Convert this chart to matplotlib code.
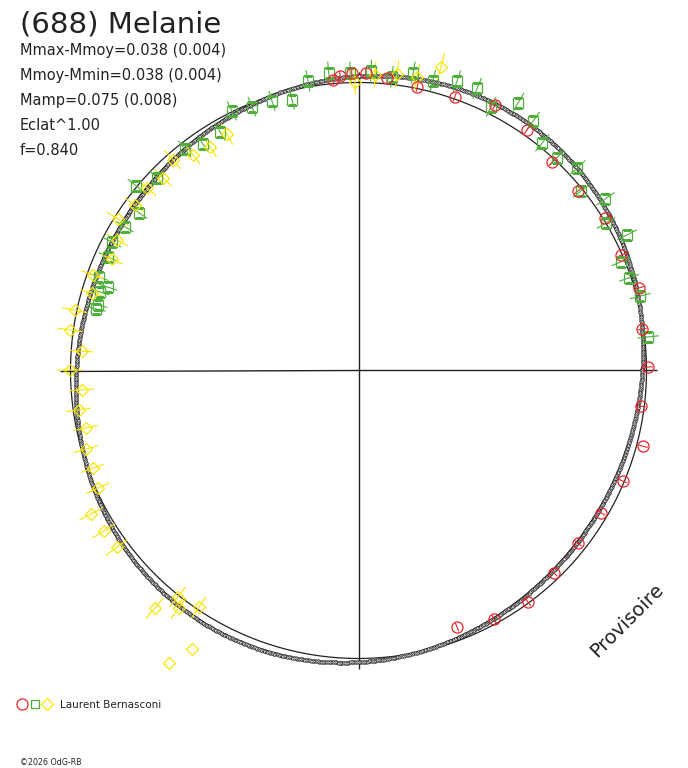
import numpy as np
import matplotlib
matplotlib.use("Agg")
import matplotlib.pyplot as plt
from matplotlib.lines import Line2D
from matplotlib.legend_handler import HandlerTuple

# ---------------- data (phase in degrees, clockwise from top; dm = magnitude offset from mean) -------------
red_phase = [355.0, 356.4, 358.7, 1.4, 5.6, 11.7, 19.4, 27.2, 35.0, 42.9, 50.7, 58.3, 66.3,
             73.6, 81.7, 89.3, 97.2, 104.9, 112.7, 120.4, 128.2, 136.0, 143.8, 151.4, 159.0]
red_dm = [-0.014, -0.027, -0.036, -0.036, -0.022, -0.006, -0.008, -0.040, -0.021, 0.013, 0.017,
          -0.007, 0.005, -0.017, 0.006, -0.006, 0.012, -0.024, 0.005, 0.025, 0.033, 0.025,
          0.004, 0.019, 0.051]
red_err = [0.018] * len(red_phase)

green_phase = [346.2, 350.1, 354.3, 358.4, 2.4, 6.5, 10.4, 14.4, 18.8, 22.8, 26.7, 30.8, 35.0,
               38.9, 43.0, 47.2, 51.1, 55.2, 59.2, 63.2, 67.5, 71.1, 75.2, 83.4, 342.2, 338.0,
               334.0, 329.9, 325.5, 321.9, 313.7, 309.7, 305.7, 301.6, 297.5, 294.4, 289.8,
               288.4, 286.9, 284.1, 283.2]
green_dm = [0.035, -0.022, -0.041, -0.036, -0.044, -0.028, -0.054, -0.041, -0.064, -0.066,
            -0.026, -0.085, -0.060, -0.016, -0.011, -0.037, 0.008, -0.046, 0.000, -0.047,
            0.015, 0.008, -0.012, -0.013, 0.019, 0.014, -0.003, 0.047, 0.051, 0.025, 0.036,
            -0.004, 0.070, 0.054, 0.039, 0.051, 0.047, 0.095, 0.070, 0.076, 0.072]
green_err = [0.040] * len(green_phase)

yellow_phase = [359.3, 3.2, 7.4, 11.3, 15.2, 330.9, 326.4, 322.5, 318.6, 314.6, 310.8, 306.5,
                302.2, 298.4, 294.3, 289.8, 286.2, 282.0, 278.0, 274.0, 270.1, 266.0, 262.0,
                258.1, 253.9, 249.8, 245.7, 241.8, 237.8, 233.8, 220.6, 218.6, 217.1, 214.0,
                210.9, 212.9]
yellow_dm = [-0.002, -0.030, -0.040, -0.042, -0.096, 0.069, 0.077, 0.063, 0.028, 0.052, 0.033,
             0.038, 0.014, 0.052, 0.069, 0.022, 0.041, -0.007, -0.012, 0.041, -0.002, 0.041,
             0.021, 0.036, 0.017, 0.020, 0.008, -0.056, -0.047, -0.042, -0.090, -0.006,
             -0.037, 0.010, -0.130, -0.207]
yellow_err = [0.048] * 34 + [0.0, 0.0]

# Fourier fit of the lightcurve (mag): dm = -a2*cos(2(phi-phi0)) - a1*cos(phi-phi0)
fit_a2 = 0.0375
fit_a2_err = 0.004
fit_a1 = 0.006
fit_phi0 = 30.0

title = "(688) Melanie"
stats = ["Mmax-Mmoy=0.038 (0.004)", "Mmoy-Mmin=0.038 (0.004)", "Mamp=0.075 (0.008)",
         "Eclat^1.00", "f=0.840"]
observer = "Laurent Bernasconi"
credit = "\u00a92026 OdG-RB"
stamp = "Provisoire"

# ---------------- style ----------------
RED = "#e8262b"
GREEN = "#4fae3c"
YELLOW = "#f7e600"
INK = "#222222"
W, H = 688, 768
CX, CY = 358.5, 370.5      # pixel centre of the polar plot
R_PX = 288.0               # pixels for relative flux 1
RMAX = 1.3

plt.rcParams["font.family"] = ["DejaVu Sans"]

fig = plt.figure(figsize=(W / 100, H / 100), dpi=100)
half = RMAX * R_PX
ax = fig.add_axes([(CX - half) / W, (H - CY - half) / H, 2 * half / W, 2 * half / H],
                  projection="polar")
ax.set_theta_zero_location("N")
ax.set_theta_direction(-1)
ax.set_rlim(0, RMAX)
ax.grid(False)
ax.set_xticks([])
ax.set_yticks([])
ax.spines["polar"].set_visible(False)
ax.patch.set_alpha(0)


def flux(dm):
    return 10 ** (-0.4 * np.asarray(dm, dtype=float))


# axis cross
for t in (0, 90, 180, 270):
    ax.plot([np.deg2rad(t)] * 2, [0, 1.035], color=INK, lw=1.0, zorder=1,
            solid_capstyle="butt")

# reference circle (mean brightness)
tt = np.linspace(0, 2 * np.pi, 721)
ax.plot(tt, np.ones_like(tt), color=INK, lw=0.9, zorder=2)


def fit_curve(phi, a2, shift=0.0):
    return (-a2 * np.cos(np.deg2rad(2 * (phi - fit_phi0 - shift)))
            - fit_a1 * np.cos(np.deg2rad(phi - fit_phi0)))


# fitted lightcurve band
phi = np.linspace(0, 360, 1081)
for a2, sh in ((fit_a2 - fit_a2_err, -1.5), (fit_a2 + fit_a2_err, 1.5)):
    ax.plot(np.deg2rad(phi), flux(fit_curve(phi, a2, sh)), color=INK, lw=0.8, zorder=3)
ax.plot(np.deg2rad(phi), flux(fit_curve(phi, fit_a2)), ls="none", marker="o", ms=2.4,
        mfc="white", mec=INK, mew=0.6, zorder=3)


def series(ph, dm, err, color, marker, ms):
    th = np.deg2rad(ph)
    dm = np.asarray(dm)
    err = np.asarray(err)
    r = flux(dm)
    lo = r - flux(dm + err)
    hi = flux(dm - err) - r
    ax.errorbar(th, r, yerr=[lo, hi], fmt="none", ecolor=color, elinewidth=0.8, zorder=4)
    ax.plot(th, r, ls="none", marker=marker, ms=ms, mfc="none", mec=color, mew=0.9, zorder=5)


series(green_phase, green_dm, green_err, GREEN, "s", 6.5)
series(yellow_phase, yellow_dm, yellow_err, YELLOW, "D", 6.0)
series(red_phase, red_dm, red_err, RED, "o", 8.0)


def fx(x):
    return x / W


def fy(y):
    return 1 - y / H


fig.text(fx(20), fy(32), title, fontsize=21, color=INK, va="baseline", ha="left")
for i, s in enumerate(stats):
    fig.text(fx(20), fy(55 + 25 * i), s, fontsize=10.5, color=INK, va="baseline", ha="left")

fig.text(fx(627), fy(620), stamp, fontsize=14, color=INK, rotation=45,
         ha="center", va="center", rotation_mode="anchor")

hr = Line2D([], [], ls="none", marker="o", ms=8.0, mfc="none", mec=RED, mew=0.9)
hg = Line2D([], [], ls="none", marker="s", ms=6.0, mfc="none", mec=GREEN, mew=0.9)
hy = Line2D([], [], ls="none", marker="D", ms=6.0, mfc="none", mec=YELLOW, mew=0.9)
fig.legend(handles=[(hr, hg, hy)], labels=[observer],
           handler_map={tuple: HandlerTuple(ndivide=None, pad=0.2)},
           loc="center left", bbox_to_anchor=(fx(17), fy(705)), frameon=False,
           fontsize=7.5, numpoints=1, handlelength=3.4, handletextpad=0.75,
           borderpad=0, borderaxespad=0, labelcolor=INK)

fig.text(fx(20), fy(765), credit, fontsize=5.7, color=INK, va="baseline", ha="left")

fig.savefig("out.png", dpi=100, facecolor="white")
